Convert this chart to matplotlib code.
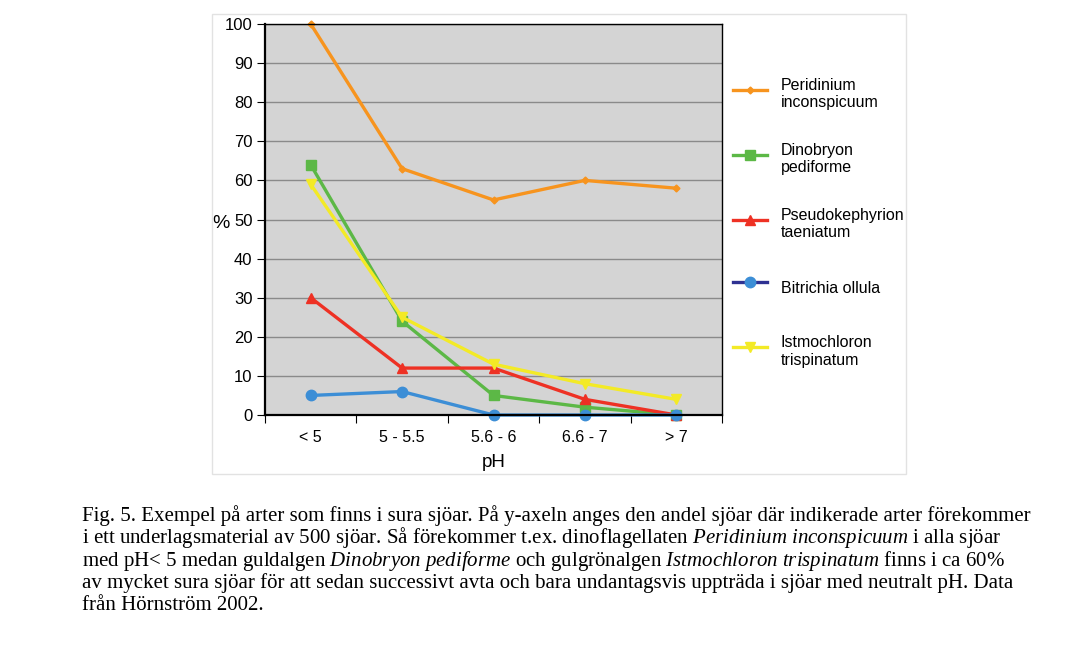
import matplotlib.pyplot as plt
from matplotlib.lines import Line2D
from matplotlib.patches import Rectangle

plt.rcParams['font.family'] = ['Liberation Sans', 'DejaVu Sans']
plt.rcParams['mathtext.fontset'] = 'custom'
plt.rcParams['mathtext.rm'] = 'Liberation Serif'
plt.rcParams['mathtext.it'] = 'Liberation Serif:italic'

ph_classes = ['< 5', '5 - 5.5', '5.6 - 6', '6.6 - 7', '> 7']
species = ['Peridinium\ninconspicuum', 'Dinobryon\npediforme', 'Pseudokephyrion\ntaeniatum',
           'Bitrichia ollula', 'Istmochloron\ntrispinatum']
peridinium = [100, 63, 55, 60, 58]
dinobryon = [64, 24, 5, 2, 0]
pseudokephyrion = [30, 12, 12, 4, 0]
bitrichia = [5, 6, 0, 0, 0]
istmochloron = [59, 25, 13, 8, 4]

caption_lines = [
    'Fig. 5. Exempel på arter som finns i sura sjöar. På y-axeln anges den andel sjöar där indikerade arter förekommer',
    r'i ett underlagsmaterial av 500 sjöar. Så förekommer t.ex. dinoflagellaten $\mathit{Peridinium\ inconspicuum}$ i alla sjöar',
    r'med pH< 5 medan guldalgen $\mathit{Dinobryon\ pediforme}$ och gulgrönalgen $\mathit{Istmochloron\ trispinatum}$ finns i ca 60%',
    'av mycket sura sjöar för att sedan successivt avta och bara undantagsvis uppträda i sjöar med neutralt pH. Data',
    'från Hörnström 2002.',
]

series = [peridinium, dinobryon, pseudokephyrion, bitrichia, istmochloron]
colors = ['#f7941e', '#5cb846', '#ee3124', '#3c8ed6', '#f3ea26']
legend_line_colors = ['#f7941e', '#5cb846', '#ee3124', '#2e3192', '#f3ea26']
markers = ['D', 's', '^', 'o', 'v']
marker_sizes = [3.5, 7.5, 7.5, 7.5, 7.5]

W, H = 1090, 660
fig = plt.figure(figsize=(W / 100, H / 100), dpi=100)
fig.patches.append(Rectangle((212 / W, 1 - 474 / H), (906 - 212) / W, (474 - 14) / H,
                             transform=fig.transFigure, fill=False, edgecolor='#e2e2e2', lw=1))

ax = fig.add_axes([265 / W, 1 - 415 / H, (722 - 265) / W, (415 - 24) / H])
ax.set_facecolor('#d4d4d4')
x = list(range(len(ph_classes)))
handles = []
for vals, c, lc, m, ms, name in zip(series, colors, legend_line_colors, markers, marker_sizes, species):
    ax.plot(x, vals, color=c, lw=2.4, marker=m, markersize=ms, markerfacecolor=c,
            markeredgecolor=c, clip_on=False)
    handles.append(Line2D([], [], color=lc, lw=2.4, marker=m, markersize=ms,
                          markerfacecolor=c, markeredgecolor=c, label=name))

ax.set_xlim(-0.5, len(ph_classes) - 0.5)
ax.set_ylim(0, 100)
ax.set_yticks(range(0, 101, 10))
ax.set_xticks(x)
ax.set_xticklabels(ph_classes)
ax.set_xticks([i - 0.5 for i in range(len(ph_classes) + 1)], minor=True)
ax.tick_params(axis='x', which='major', length=0, pad=11, labelsize=11.5)
ax.tick_params(axis='x', which='minor', length=6, width=0.8, direction='out')
ax.tick_params(axis='y', length=6, width=0.8, pad=3, labelsize=12)
ax.grid(axis='y', color='#8a8a8a', lw=1)
ax.set_axisbelow(True)
for side in ['top', 'right']:
    ax.spines[side].set_linewidth(1)
for side in ['left', 'bottom']:
    ax.spines[side].set_linewidth(1.6)
ax.set_xlabel('pH', fontsize=13.5, labelpad=6)
ax.set_ylabel('%', fontsize=14, rotation=0, va='center', ha='center')
ax.yaxis.set_label_coords(-0.096, 0.49)

fig.legend(handles=handles, loc='upper left', bbox_to_anchor=(733 / W, 1 - 78 / H),
           frameon=False, fontsize=11.5, borderpad=0, borderaxespad=0,
           handlelength=2.1, handletextpad=0.9, handleheight=2.6, labelspacing=2.0)

baselines = [521, 543, 566, 588, 610]
for line, yb in zip(caption_lines, baselines):
    fig.text(82 / W, 1 - yb / H, line, fontsize=15, family='Liberation Serif', va='baseline')

fig.savefig('out.png', dpi=100)
